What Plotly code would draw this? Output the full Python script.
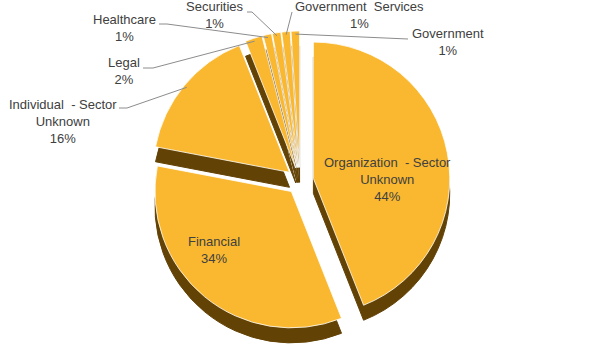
import math
import plotly.graph_objects as go

# ---- data ----
categories = ["Organization\u00a0 - Sector<br>Unknown", "Financial",
              "Individual\u00a0 - Sector<br>Unknown", "Legal", "Healthcare",
              "Securities", "Government\u00a0 Services", "Government"]
values = [44, 34, 16, 2, 1, 1, 1, 1]

# ---- styling / layout ----
W, H = 600, 360
PULL = 0.10
CX, CY = 300, 181            # pie centre (px)
R_OUT = 150                  # outer radius incl. pull (px)
DEPTH = 15                   # pseudo-3D depth (px)
GOLD = "#F9B830"
BROWN = "#634205"
TXT = "#404040"
FONT = "Liberation Sans, Arial, sans-serif"
FS = 13

dom_x = [0, 2 * CX / W]
dom_y = [1 - (CY + R_OUT) / H, 1 - (CY - R_OUT) / H]
dom_y_depth = [dom_y[0] - DEPTH / H, dom_y[1] - DEPTH / H]

common = dict(labels=categories, values=values, sort=False,
              direction="clockwise", rotation=0, pull=[PULL] * len(values),
              showlegend=False, textposition="none")

# side walls (shifted copy underneath)
fig = go.Figure(go.Pie(
    **common,
    marker=dict(colors=[BROWN] * len(values), line=dict(color=BROWN, width=1)),
    hoverinfo="skip",
    domain=dict(x=dom_x, y=dom_y_depth),
))
# top faces
fig.add_trace(go.Pie(
    **common,
    marker=dict(colors=[GOLD] * len(values), line=dict(color="white", width=0.8)),
    hoverinfo="label+percent",
    domain=dict(x=dom_x, y=dom_y),
))

r = R_OUT / (1 + PULL)
total = sum(values)

# label placement (px): text centre, leader points (None = label inside slice)
label_pos = {
    "Organization\u00a0 - Sector<br>Unknown": ((388, 179), None),
    "Financial": ((214, 250), None),
    "Individual\u00a0 - Sector<br>Unknown": ((63, 121), [(119, 108), (127, 108)]),
    "Legal": ((124, 71), [(143, 68), (153, 68)]),
    "Healthcare": ((124, 28), [(159, 24), (167, 24)]),
    "Securities": ((215, 15), [(247, 12), (252, 12)]),
    "Government\u00a0 Services": ((359, 15), [(292, 12)]),
    "Government": ((448, 42), [(408, 39)]),
}

annotations = []
shapes = []
cum = 0.0
for cat, v in zip(categories, values):
    a0 = cum / total * 360
    cum += v
    a1 = cum / total * 360
    (lx, ly), pts = label_pos[cat]
    pct = f"{round(v / total * 100)}%"
    annotations.append(dict(
        x=lx / W, y=1 - ly / H, xref="paper", yref="paper",
        xanchor="center", yanchor="middle",
        text=f"{cat}<br>{pct}", showarrow=False,
        font=dict(color=TXT, size=FS, family=FONT), align="center",
    ))
    if pts is None:
        continue
    mid = math.radians((a0 + a1) / 2)
    R = r * (1 + PULL) - 3
    tx = CX + R * math.sin(mid)
    ty = CY - R * math.cos(mid)
    path = "M " + " L ".join(f"{x / W} {1 - y / H}" for x, y in pts + [(tx, ty)])
    shapes.append(dict(
        type="path", xref="paper", yref="paper", path=path,
        line=dict(color="#8C8C8C", width=1),
    ))

fig.update_layout(
    width=W, height=H,
    margin=dict(l=0, r=0, t=0, b=0),
    paper_bgcolor="white",
    annotations=annotations,
    shapes=shapes,
    font=dict(family=FONT, color=TXT, size=FS),
)

fig.write_html("out.html", config={"displayModeBar": False},
               post_script="document.body.style.margin='0';")
